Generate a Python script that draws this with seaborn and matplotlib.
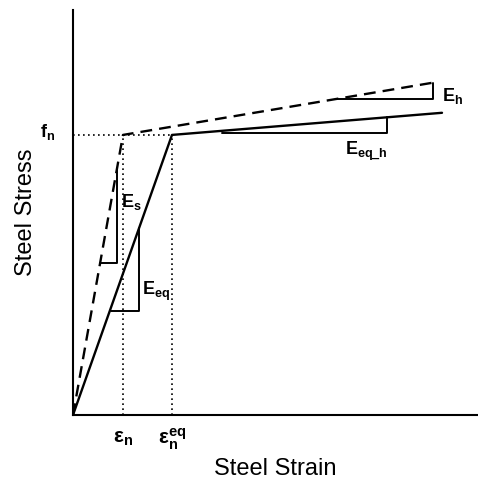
import matplotlib
matplotlib.use("Agg")
import matplotlib.pyplot as plt
import seaborn as sns

# strain in units of eps_n, stress in units of f_n
dashed_x = [0.0, 1.0, 7.28]
dashed_y = [0.0, 1.0, 1.189]
solid_x = [0.0, 1.98, 7.38]
solid_y = [0.0, 1.0, 1.079]

eps_n = 1.0
eps_n_eq = 1.98
f_n = 1.0

# slope triangles
es_x, es_y = [0.54, 0.88, 0.88], [0.543, 0.543, 0.882]
eeq_x, eeq_y = [0.76, 1.32, 1.32], [0.371, 0.371, 0.667]
eh_x, eh_y = [5.26, 7.2, 7.2], [1.129, 1.129, 1.187]
eeqh_x, eeqh_y = [2.98, 6.28, 6.28], [1.007, 1.007, 1.063]

sns.set_style("white")
plt.rcParams["font.family"] = ["Liberation Sans", "DejaVu Sans"]
plt.rcParams["text.color"] = "black"
plt.rcParams["axes.labelcolor"] = "black"
plt.rcParams["mathtext.fontset"] = "custom"
plt.rcParams["mathtext.rm"] = "Liberation Sans"
plt.rcParams["mathtext.it"] = "Liberation Sans:italic"
plt.rcParams["mathtext.bf"] = "Liberation Sans:bold"

fig = plt.figure(figsize=(4.78, 4.86), dpi=100)
ax = fig.add_axes([0.1527, 0.1461, 0.8473, 0.8333])

# main curves
sns.lineplot(x=dashed_x, y=dashed_y, ax=ax, color="black", lw=1.7,
             estimator=None, sort=False)
ax.lines[-1].set_dashes([5, 3])
sns.lineplot(x=solid_x, y=solid_y, ax=ax, color="black", lw=1.7,
             estimator=None, sort=False)

# dotted guides
dot = dict(color="black", lw=1.2, dashes=[1, 2])
ax.plot([0, eps_n_eq], [f_n, f_n], **dot)
ax.plot([eps_n, eps_n], [0, f_n], **dot)
ax.plot([eps_n_eq, eps_n_eq], [0, f_n], **dot)

# slope triangles
for tx, ty in [(es_x, es_y), (eeq_x, eeq_y), (eh_x, eh_y), (eeqh_x, eeqh_y)]:
    sns.lineplot(x=tx, y=ty, ax=ax, color="black", lw=1.4,
                 estimator=None, sort=False)

# annotations
lab = dict(fontsize=13, color="black", clip_on=False)
ax.text(0.96, 0.76, r"$\mathbf{E_s}$", ha="left", va="center", **lab)
ax.text(1.38, 0.44, r"$\mathbf{E_{eq}}$", ha="left", va="center", **lab)
ax.text(7.38, 1.14, r"$\mathbf{E_h}$", ha="left", va="center", **lab)
ax.text(5.44, 0.94, r"$\mathbf{E_{eq\_h}}$", ha="left", va="center", **lab)
ax.text(-0.36, f_n + 0.01, r"$\mathbf{f_n}$", ha="right", va="center", **lab)
eps_lab = dict(fontsize=15, color="black", clip_on=False)
ax.text(eps_n, -0.085, r"$\mathbf{\varepsilon_n}$", ha="center", va="center", **eps_lab)
ax.text(eps_n_eq, -0.085, r"$\mathbf{\varepsilon_n^{eq}}$", ha="center", va="center", **eps_lab)

ax.set_xlim(0, 8.1)
ax.set_ylim(0, 1.446)
ax.set_xticks([])
ax.set_yticks([])
for side in ["top", "right"]:
    ax.spines[side].set_visible(False)
for side in ["left", "bottom"]:
    ax.spines[side].set_color("black")
    ax.spines[side].set_linewidth(1.5)

ax.set_xlabel("Steel Strain", fontsize=17)
ax.set_ylabel("Steel Stress", fontsize=17)
ax.xaxis.set_label_coords(0.5, -0.105)
ax.yaxis.set_label_coords(-0.09, 0.5)

fig.savefig("out.png", dpi=100)
